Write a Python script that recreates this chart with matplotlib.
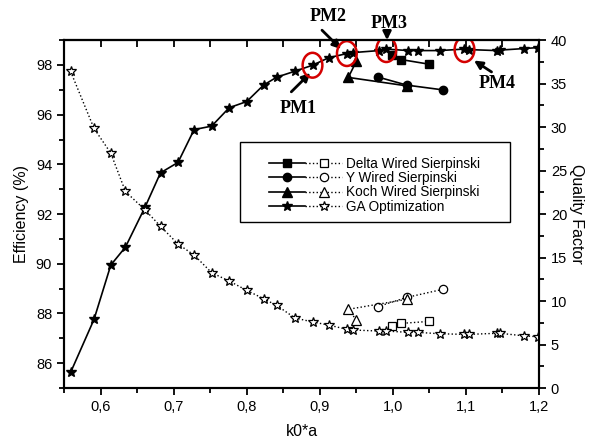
import matplotlib
matplotlib.use("Agg")
import matplotlib.pyplot as plt
from matplotlib.patches import Ellipse, Rectangle
from matplotlib.legend_handler import HandlerTuple
from matplotlib.ticker import MultipleLocator, FuncFormatter

plt.rcParams['font.family'] = ['Liberation Sans', 'DejaVu Sans']

# GA optimization sweep
ga_k = [0.559, 0.591, 0.614, 0.634, 0.661, 0.682, 0.706, 0.728, 0.752, 0.776,
        0.800, 0.823, 0.841, 0.866, 0.890, 0.912, 0.937, 0.946, 0.981, 0.991,
        1.021, 1.034, 1.064, 1.097, 1.104, 1.142, 1.147, 1.179, 1.198]
ga_eff = [85.63, 87.76, 89.95, 90.67, 92.29, 93.66, 94.08, 95.40, 95.54, 96.28,
          96.53, 97.19, 97.51, 97.75, 97.99, 98.29, 98.46, 98.50, 98.58, 98.64,
          98.58, 98.58, 98.58, 98.64, 98.62, 98.58, 98.60, 98.66, 98.70]
ga_q = [36.4, 29.85, 27.0, 22.6, 20.46, 18.6, 16.55, 15.29, 13.26, 12.3,
        11.23, 10.27, 9.5, 8.05, 7.6, 7.24, 6.75, 6.67, 6.55, 6.55,
        6.4, 6.4, 6.24, 6.17, 6.17, 6.29, 6.29, 6.0, 5.9]

delta_k = [0.999, 1.011, 1.050]
delta_eff = [98.40, 98.22, 98.03]
delta_q = [7.16, 7.43, 7.66]

y_k = [0.979, 1.019, 1.068]
y_eff = [97.52, 97.19, 97.0]
y_q = [9.35, 10.42, 11.34]

koch_k = [0.950, 0.939, 1.019]
koch_eff = [98.15, 97.5, 97.16]
koch_q = [7.82, 9.05, 10.2]

labels = ['Delta Wired Sierpinski', 'Y Wired Sierpinski',
          'Koch Wired Sierpinski', 'GA Optimization']

# optimum points: name, center, text pos, arrow tail, arrow head
pm_names = ['PM1', 'PM2', 'PM3', 'PM4']
pm_center = [(0.890, 97.99), (0.937, 98.46), (0.991, 98.62), (1.098, 98.62)]
pm_text = [(0.871, 96.25), (0.911, 99.95), (0.995, 99.65), (1.142, 97.25)]
pm_tail = [(0.861, 96.92), (0.903, 99.40), (0.992, 99.33), (1.135, 97.72)]
pm_head = [(0.887, 97.68), (0.929, 98.64), (0.992, 99.00), (1.111, 98.18)]

fig = plt.figure(figsize=(5.93, 4.46), dpi=100)
ax = fig.add_axes([0.108, 0.130, 0.801, 0.780])
ax2 = ax.twinx()

series = [(delta_k, delta_eff, delta_q, 's', 5.5),
          (y_k, y_eff, y_q, 'o', 6),
          (koch_k, koch_eff, koch_q, '^', 6.5),
          (ga_k, ga_eff, ga_q, '*', 7.5)]

handles = []
for k, eff, q, m, ms in series:
    h1, = ax.plot(k, eff, '-', color='black', lw=1.2, marker=m, ms=ms,
                  mfc='black', mec='black')
    h2, = ax2.plot(k, q, ':', color='black', lw=1.0, marker=m, ms=ms,
                   mfc='white', mec='black', mew=0.9)
    handles.append((h1, h2))

ax.set_xlim(0.55, 1.2)
ax.set_ylim(85, 99)
ax2.set_ylim(0, 40)

ax.xaxis.set_major_locator(MultipleLocator(0.1))
ax.xaxis.set_minor_locator(MultipleLocator(0.05))
ax.yaxis.set_major_locator(MultipleLocator(2))
ax.yaxis.set_minor_locator(MultipleLocator(1))
ax2.yaxis.set_major_locator(MultipleLocator(5))
ax2.yaxis.set_minor_locator(MultipleLocator(2.5))
ax.xaxis.set_major_formatter(FuncFormatter(lambda v, p: f'{v:.1f}'.replace('.', ',')))

for a in (ax, ax2):
    for s in a.spines.values():
        s.set_linewidth(1.5)
ax.tick_params(which='both', direction='out', width=1.3, labelsize=10.5, top=False)
ax.tick_params(which='major', length=5)
ax.tick_params(which='minor', length=3.5)
ax2.tick_params(which='both', direction='out', width=1.3, labelsize=10.5)
ax2.tick_params(which='major', length=5)
ax2.tick_params(which='minor', length=3.5)

# top axis ticks pointing inward
sec = ax.secondary_xaxis('top')
sec.xaxis.set_major_locator(MultipleLocator(0.05))
sec.tick_params(direction='in', length=5, width=1.3, labeltop=False)
sec.spines['top'].set_linewidth(1.5)

ax.set_xlabel('k0*a', fontsize=11.5, labelpad=7)
ax.set_ylabel('Efficiency (%)', fontsize=11.5, labelpad=5)
ax2.set_ylabel('Quality Factor', fontsize=11.5, rotation=270, labelpad=12)

for name, c, t, tail, head in zip(pm_names, pm_center, pm_text, pm_tail, pm_head):
    ax.add_patch(Ellipse(c, 0.027, 1.0, fill=False, edgecolor='#d40000', lw=1.8,
                         zorder=5))
    ax.text(t[0], t[1], name, fontsize=13, fontweight='bold',
            family='Liberation Serif', ha='center', va='center', clip_on=False)
    ax.annotate('', xy=head, xytext=tail, annotation_clip=False,
                arrowprops=dict(arrowstyle='-|>', color='black', lw=2,
                                mutation_scale=12, shrinkA=0, shrinkB=0))

# legend frame drawn separately, Origin style
ax.add_patch(Rectangle((0.3705, 0.477), 0.5685, 0.230, transform=ax.transAxes,
                       fill=True, facecolor='white', edgecolor='black', lw=1.0,
                       zorder=8))
leg = ax.legend(handles, labels, loc='upper left', bbox_to_anchor=(0.418, 0.685),
                handler_map={tuple: HandlerTuple(ndivide=None, pad=0.0)},
                handlelength=5.3, fontsize=9.8, frameon=False, borderpad=0.0,
                labelspacing=0.03, handletextpad=0.35)
leg.set_zorder(10)

fig.savefig('out.png', dpi=100)
